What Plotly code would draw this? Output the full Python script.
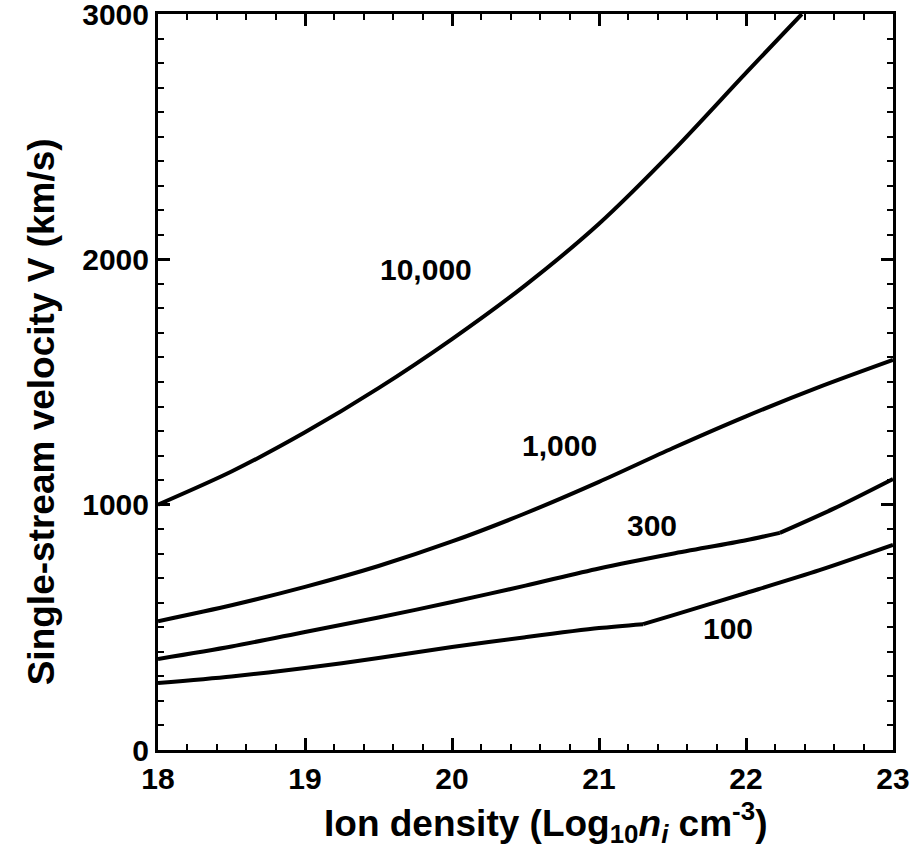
import plotly.graph_objects as go

# Data (x = log10 ion density, V in km/s)
x_10000 = [18.0, 18.5, 19.0, 19.5, 20.0, 20.5, 21.0, 21.5, 22.0, 22.38]
v_10000 = [1000, 1135, 1295, 1475, 1675, 1895, 2145, 2440, 2760, 3000]

x_1000 = [18.0, 18.5, 19.0, 19.5, 20.0, 20.5, 21.0, 21.5, 22.0, 22.5, 23.0]
v_1000 = [525, 590, 665, 750, 850, 965, 1093, 1230, 1360, 1480, 1590]

x_300 = [18.0, 18.5, 19.0, 19.5, 20.0, 20.5, 21.0, 21.5, 22.0, 22.23, 22.6, 23.0]
v_300 = [371, 422, 481, 540, 603, 670, 740, 800, 855, 885, 985, 1105]
kink_300 = 9   # index of the break in slope

x_100 = [18.0, 18.5, 19.0, 19.5, 20.0, 20.5, 21.0, 21.3, 21.5, 22.0, 22.5, 23.0]
v_100 = [273, 300, 334, 375, 420, 460, 497, 513, 549, 640, 733, 836]
kink_100 = 7

label_text = ["10,000", "1,000", "300", "100"]
label_x = [19.82, 20.73, 21.36, 21.88]
label_y = [1957, 1243, 917, 497]

x_ticks = [18, 19, 20, 21, 22, 23]
y_ticks = [0, 1000, 2000, 3000]

x_title = "Ion density (Log<sub>10</sub><i>n<sub>i</sub></i> cm<sup>-3</sup>)"
y_title = "Single-stream velocity V (km/s)"

FONT = "Liberation Sans, Arial, Helvetica, sans-serif"

segments = [
    (x_10000, v_10000),
    (x_1000, v_1000),
    (x_300[:kink_300 + 1], v_300[:kink_300 + 1]),
    (x_300[kink_300:], v_300[kink_300:]),
    (x_100[:kink_100 + 1], v_100[:kink_100 + 1]),
    (x_100[kink_100:], v_100[kink_100:]),
]

fig = go.Figure()
for xs, ys in segments:
    fig.add_trace(go.Scatter(
        x=xs, y=ys, mode="lines",
        line=dict(color="black", width=4, shape="spline", smoothing=0.8),
        showlegend=False, hoverinfo="skip",
    ))

for t, lx, ly in zip(label_text, label_x, label_y):
    fig.add_annotation(x=lx, y=ly, text=t, showarrow=False,
                       font=dict(family=FONT, size=30, color="black", weight="bold"))

# axis titles as text annotations (offset as in the reference)
fig.add_annotation(
    xref="paper", yref="paper", x=-0.158, y=0.46,
    text=y_title, textangle=-90, showarrow=False,
    xanchor="center", yanchor="middle",
    font=dict(family=FONT, size=37, color="black", weight="bold"),
)
fig.add_annotation(
    xref="paper", yref="paper", x=0.527, y=-0.099,
    text=x_title, showarrow=False,
    xanchor="center", yanchor="middle",
    font=dict(family=FONT, size=37, color="black", weight="bold"),
)

axis_common = dict(
    showline=True, linecolor="black", linewidth=3, mirror="ticks",
    ticks="inside", ticklen=12, tickwidth=2.5, tickcolor="black",
    showgrid=False, zeroline=False, ticklabeloverflow="allow",
    tickfont=dict(family=FONT, size=30, color="black", weight="bold"),
)

fig.update_xaxes(
    range=[18, 23], tickvals=x_ticks, ticktext=[str(v) for v in x_ticks],
    minor=dict(dtick=0.2, ticks="inside", ticklen=6, tickwidth=2, tickcolor="black"),
    **axis_common,
)
fig.update_yaxes(
    range=[0, 3000], tickvals=y_ticks, ticktext=[str(v) for v in y_ticks],
    minor=dict(dtick=100, ticks="inside", ticklen=6, tickwidth=2, tickcolor="black"),
    **axis_common,
)

fig.update_layout(
    width=920, height=850,
    margin=dict(l=158, r=27, t=14, b=100, autoexpand=False),
    plot_bgcolor="white", paper_bgcolor="white",
)

fig.write_html("out.html")
